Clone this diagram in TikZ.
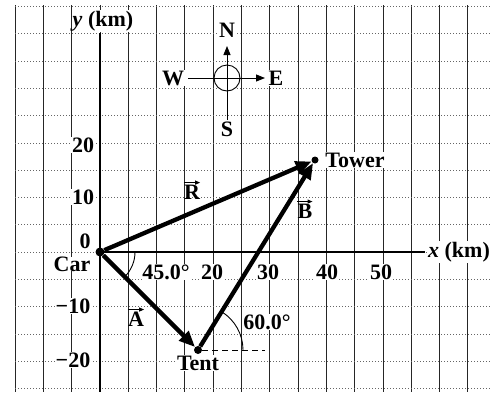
\documentclass[tikz,border=0pt]{standalone}
\usepackage{fontspec}
\setmainfont{Liberation Serif}
\usetikzlibrary{arrows.meta}
\begin{document}
\begin{tikzpicture}[x=1pt,y=-1pt,
  gridv/.style={line width=0.7pt, black!85},
  gridh/.style={line width=0.6pt, black!60, dash pattern=on 1.2pt off 1.8pt},
  lab/.style={font=\fontsize{22}{25}\selectfont\bfseries, fill=white, inner sep=0.6pt},
  vlab/.style={font=\fontsize{22}{25}\selectfont\bfseries, inner sep=0pt},
  vecline/.style={line width=4.3pt, -{Triangle[length=16pt,width=13pt]}},
  thinl/.style={line width=0.9pt},
  smallarrow/.style={line width=1pt, -{Triangle[length=5pt,width=4pt]}},
  dotnode/.style={circle, fill=black, inner sep=0pt}
  ]
\useasboundingbox (0,0) rectangle (492,392);
\fill[white] (0,0) rectangle (492,392);
% grid
\foreach \i in {0,...,16} \draw[gridv] ({15+\i*28.3},5) -- ({15+\i*28.3},392);
\foreach \j in {-9,...,5} \draw[gridh] (15,{252+\j*27.3}) -- (492,{252+\j*27.3});
% axes
\draw[line width=2.6pt] (100,33) -- (100,392);
\draw[line width=1.4pt] (100,252) -- (425,252);
% axis labels
\node[lab] (ylab) at (103,21) {\textit{y} (km)};
\node[lab] (xlab) at (459,252) {\textit{x} (km)};
\node[lab] (t20) at (83,145) {20};
\node[lab] (t10) at (83,197) {10};
\node[lab, inner sep=0pt] (t0) at (85,241) {0};
\node[lab, inner sep=0pt] (carl) at (72,264) {Car};
\node[lab] (tm10) at (73,306) {−10};
\node[lab] (tm20) at (73,360) {−20};
\node[lab] (x20) at (212,272) {20};
\node[lab] (x30) at (268,272) {30};
\node[lab] (x40) at (327,272) {40};
\node[lab] (x50) at (381,272) {50};
\node[lab] (a45) at (166,272) {45.0°};
\node[lab] (a60) at (267,322) {60.0°};
\node[lab] (tentl) at (198,363) {Tent};
\node[lab] (towerl) at (355,160) {Tower};
% compass
\coordinate (cc) at (227,78);
\coordinate (cs) at (227,120);
\coordinate (cn) at (227,46);
\coordinate (cw) at (188,78);
\coordinate (ce) at (265,78);
\node[lab] (nl) at (227,30) {N};
\node[lab] (sl) at (227,129) {S};
\node[lab] (wl) at (173,78) {W};
\node[lab] (el) at (276,78) {E};
\draw[thinl, fill=white] (cc) circle (13);
\draw[thinl, -{Triangle[length=9pt,width=7pt]}] (cs) -- (cn);
\draw[thinl, -{Triangle[length=9pt,width=7pt]}] (cw) -- (ce);
% points
\node[dotnode, minimum size=9pt] (car) at (100,252) {};
\node[dotnode, minimum size=8pt] (tent) at (198,350) {};
\node[dotnode, minimum size=7pt] (tower) at (315,160) {};
% angle marks
\draw[thinl] (135,252) arc[start angle=0, end angle=45, radius=35];
\draw[thinl] (243,350) arc[start angle=0, end angle=-58, radius=45];
\coordinate (dashend) at (265,350);
\draw[thinl, dash pattern=on 6pt off 4pt] (tent) -- (dashend);
% vectors
\draw[vecline] (car) -- (tent);
\draw[vecline] (tent) -- (tower);
\draw[vecline] (car) -- (tower);
\node[vlab] (rl) at (192,192) {R};
\node[vlab] (bl) at (305,211) {B};
\node[vlab] (al) at (136,319) {A};
\draw[smallarrow] ([yshift=2pt]rl.north west) -- ([yshift=2pt]rl.north east);
\draw[smallarrow] ([yshift=2pt]bl.north west) -- ([yshift=2pt]bl.north east);
\draw[smallarrow] ([yshift=2pt]al.north west) -- ([yshift=2pt]al.north east);
\end{tikzpicture}
\end{document}
